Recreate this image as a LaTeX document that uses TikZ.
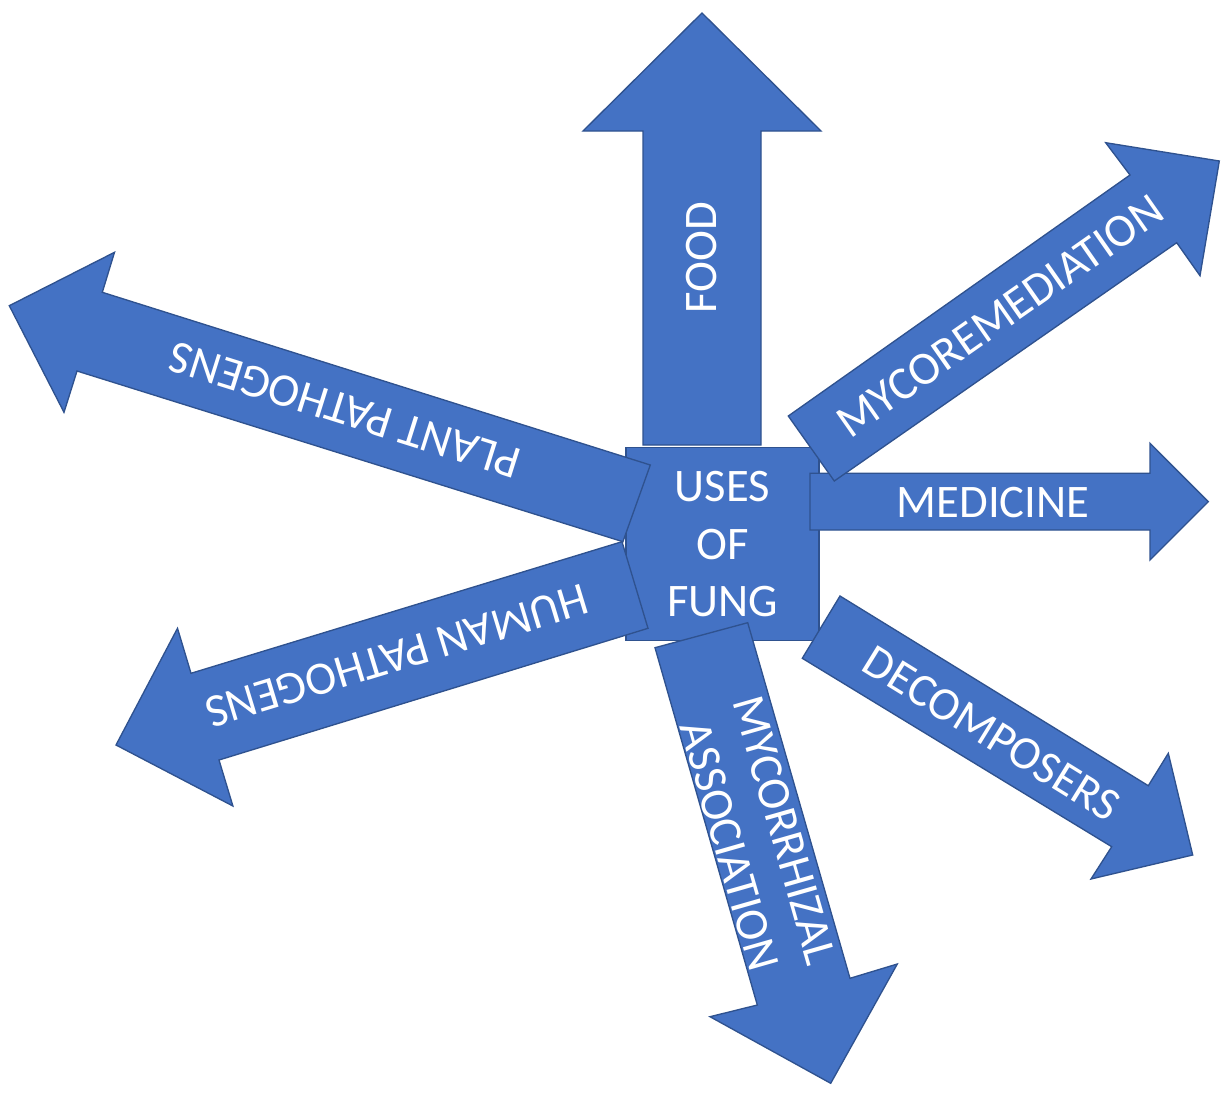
\documentclass[tikz,border=0pt]{standalone}
\usepackage{fontspec}
\setmainfont{Carlito}
\definecolor{fungfill}{HTML}{4472C4}
\definecolor{fungedge}{HTML}{2F528F}
\begin{document}
\begin{tikzpicture}[x=0.75pt,y=-0.75pt,
  blockarrow/.style={fill=fungfill,draw=fungedge,line width=1pt,line join=miter},
  armtext/.style={text=white,font=\fontsize{35}{43}\selectfont,inner sep=0pt,align=center},
  hub/.style={blockarrow,armtext,minimum width=144.75pt,minimum height=144.75pt}]
\useasboundingbox (0,0) rectangle (1229,1096);

% upward arrow: food
\draw[blockarrow] (702,13) -- (821,131) -- (761,131) -- (761,445) -- (643,445) -- (643,131) -- (583,131) -- cycle;
\node[armtext,rotate=90] (food) at (702,258) {FOOD};

% central box
\node[hub] (fung) at (722.5,544.2) {USES\\OF\\FUNG};

% plant pathogens
\draw[blockarrow] (650.3,465) -- (102.3,292.3) -- (114.5,252.3) -- (9.3,305.7) -- (64,412.3) -- (77,371) -- (622.9,541.7) -- cycle;
\node[armtext,rotate=162.5] (plant) at (345,410) {PLANT PATHOGENS};

% human pathogens
\draw[blockarrow] (622,541.7) -- (191,673.3) -- (177.5,628.3) -- (116,745) -- (232.9,806) -- (219,760) -- (648,628.3) -- cycle;
\node[armtext,rotate=196.9] (human) at (397,656) {HUMAN PATHOGENS};

% mycorrhizal association
\draw[blockarrow] (655,647.7) -- (747.7,622.7) -- (850,978.3) -- (897.3,964) -- (830.7,1083.3) -- (710,1016.7) -- (757.3,1005) -- cycle;
\node[armtext,rotate=-74] (myco) at (757,838) {MYCORRHIZAL\\ASSOCIATION};

% decomposers
\draw[blockarrow] (840,596) -- (1148.3,785.7) -- (1168.3,753.3) -- (1192.7,855) -- (1091,879) -- (1111.7,846.7) -- (802.3,658.3) -- cycle;
\node[armtext,rotate=-31.7] (decomp) at (991.7,733.3) {DECOMPOSERS};

% medicine
\draw[blockarrow] (810,473.3) -- (1150,473.3) -- (1150,443.3) -- (1208.3,501.7) -- (1150,560) -- (1150,530) -- (810,530) -- cycle;
\node[armtext] (medicine) at (993,502.7) {MEDICINE};

% mycoremediation
\draw[blockarrow] (788.3,416) -- (1130,175) -- (1105.7,142.7) -- (1219.3,161) -- (1200,275.7) -- (1176.7,242.7) -- (834.3,481) -- cycle;
\node[armtext,rotate=35] (remed) at (1000,316) {MYCOREMEDIATION};
\end{tikzpicture}
\end{document}
